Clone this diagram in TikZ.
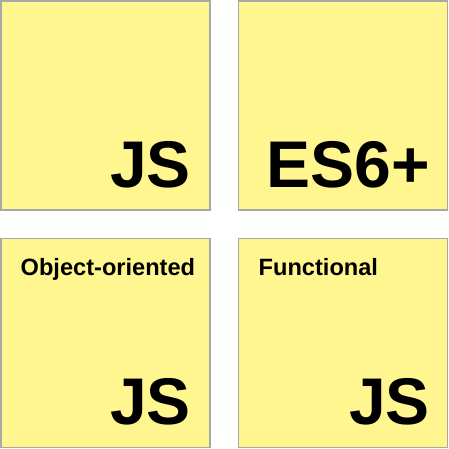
\documentclass[tikz,border=0pt]{standalone}
\usepackage{fontspec}
\setmainfont{Liberation Sans}
\usetikzlibrary{calc}
\definecolor{boxfill}{HTML}{FFF68F}
\definecolor{boxline}{HTML}{A8A8A8}
\begin{document}
\begin{tikzpicture}[x=1pt,y=1pt,
  box/.style={draw=boxline, fill=boxfill, line width=1.3pt, minimum size=209pt, inner sep=0pt, outer sep=0pt},
  bigtext/.style={inner sep=0pt, anchor=base east, font=\fontsize{66}{66}\selectfont\bfseries},
  smalltext/.style={inner sep=0pt, anchor=base west, font=\fontsize{23.6}{23.6}\selectfont\bfseries}]
\useasboundingbox (0,0) rectangle (449,449);
\node[box] (tl) at (105.5,343.5) {};
\node[box] (tr) at (343,343.5) {};
\node[box] (bl) at (105.5,106) {};
\node[box] (br) at (343,106) {};
\node[bigtext] (tljs) at ($(tl.south east)+(-19,22.5)$) {JS};
\node[bigtext] (tres) at ($(tr.south east)+(-17.5,22.5)$) {ES6+};
\node[bigtext] (bljs) at ($(bl.south east)+(-19,22.5)$) {JS};
\node[bigtext] (brjs) at ($(br.south east)+(-17.5,22.5)$) {JS};
\node[smalltext] (oo) at ($(bl.north west)+(19.5,-37.5)$) {Object-oriented};
\node[smalltext] (fn) at ($(br.north west)+(20,-37.5)$) {Functional};
\end{tikzpicture}
\end{document}
